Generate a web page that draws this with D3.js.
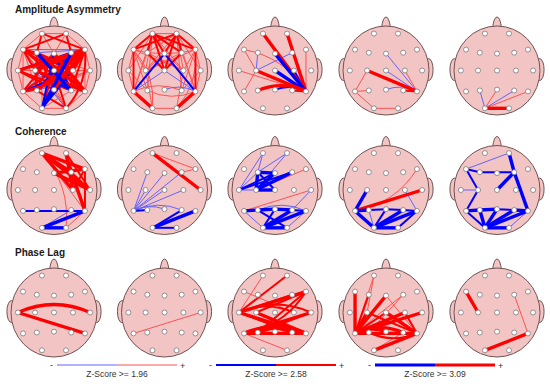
<!DOCTYPE html>
<html>
<head>
<meta charset="utf-8">
<script src="https://cdn.jsdelivr.net/npm/d3@7"></script>
<style>
  body { margin: 0; background: #fff; }
  svg { display: block; }
</style>
</head>
<body>
<div id="container"></div>
<script>
/* DATA */

const rowTitles = ["Amplitude Asymmetry", "Coherence", "Phase Lag"];
const thresholds = ["1.96", "2.58", "3.09"];

// 10-20 montage, positions as a fraction of the head radius
const electrodes = ["Fp1","Fp2","F7","F3","Fz","F4","F8","T3","C3","Cz","C4","T4","T5","P3","Pz","P4","T6","O1","O2"];
const electrodeX = [-0.28,0.28,-0.72,-0.40,0,0.40,0.72,-0.84,-0.44,0,0.44,0.84,-0.72,-0.40,0,0.40,0.72,-0.28,0.28];
const electrodeY = [-0.83,-0.83,-0.47,-0.40,-0.38,-0.40,-0.47,0,0,0,0,0,0.47,0.45,0.43,0.45,0.47,0.85,0.85];

// "from to z"  : z = +/-1 (>=1.96), +/-2 (>=2.58), +/-3 (>=3.09), sign = colour
const amplitudeAsymmetry = [
  ["Fp1 Fp2 1","Fp1 F7 1","Fp2 F8 1","Fp1 F3 2","Fp2 F4 2","Fp1 F8 2","Fp2 F7 2","Fp1 Fz 1","Fp2 Fz 1",
   "F7 T3 1","F8 T4 1","F7 T5 1","F8 T6 1","T3 T5 1","T4 T6 1","T5 O1 1","T6 O2 1","O1 O2 1",
   "F7 C3 2","F7 Cz 2","F7 C4 2","F7 P3 1","F7 Pz 1","F7 P4 2","F7 T6 2","F7 O1 1","F7 O2 1","F7 T4 1",
   "F8 C4 3","F8 Cz 3","F8 C3 3","F8 T3 3","F8 P4 2","F8 Pz 3","F8 P3 3","F8 T5 3","F8 O2 2","F8 F4 2",
   "F3 C3 1","F3 P3 2","F3 T6 3","F3 O2 1","F3 Pz 2","F4 C4 1","F4 P4 2","F4 Pz 2",
   "Fz C3 2","Fz C4 2","Fz T5 2","Fz T6 3","Fz P3 2","T3 C3 1","C4 T4 1",
   "T3 P4 2","T4 C3 1","T4 P3 1","C3 T6 3","T3 Pz 2","T4 Pz 1","C3 P3 2","Cz P4 2",
   "Cz O1 2","Cz O2 2","Cz T5 2","P3 O2 2","P4 O1 1","Pz O1 2","Pz O2 1","T5 P3 1","P4 T6 1",
   "F7 F8 -1","F3 F8 -1","T3 F4 -2","C3 F4 -2","C3 P4 -2","F3 P4 -3","Fz O1 -2","F4 P3 -2",
   "C3 O2 -1","C4 O1 -2","F4 O1 -3","Fz P4 -2","P3 T6 -1","T5 C4 -2","F3 C4 -1","O1 F8 -2","T5 F4 -1","T3 C4 -1"],
  ["Fp1 Fp2 1","Fp1 T3 1","Fp2 T4 1","F7 T3 1","F8 T4 1","T3 T5 1","T4 T6 1","O1 O2 1","F7 O1 1","F8 O2 1",
   "Fp1 P3 1","Fp2 P4 1","F3 T5 1","F4 T6 1","F7 P3 1","F8 P4 1","C3 O1 1","C4 O2 1","T5 P4 1","T6 P3 1",
   "T3 P3 1","T4 P4 1","F7 C4 1","F8 C3 1","Fp1 T5 1","Fp2 T6 1",
   "Fp1 F7 2","Fp2 F8 2","Fp1 F4 2","Fp2 F3 1","Fp1 Fz 2","Fp2 Fz 2","F3 Fz 1","Fz F4 1","Fp1 C3 1","Fp2 C4 1",
   "Fp1 Cz 2","Fp2 Cz 2","F7 F3 1","F4 F8 1","F7 C3 1","F8 C4 1","F3 C4 1","F4 C3 1","Fp1 C4 1","Fp2 C3 1",
   "F7 T5 2","F8 T6 2",
   "Fp1 F3 2","Fp2 F4 2","Fp1 F8 2","Fp2 F7 2","T5 O1 3","T6 O2 3","F3 Cz 2","F4 Cz 2","Fz C3 1","Fz C4 1",
   "T5 Fz -2","Fz T6 -2","T5 Cz -1","Cz T6 -1","Pz T6 -1"],
  ["Fp1 T6 3","Fp2 T6 3","F8 T6 1","Fz T6 -3","Cz T6 -3","C4 T6 -2","C3 T6 3","T3 T6 1","P3 T6 3",
   "Pz T6 -2","P4 T6 2","F3 C3 -1","C3 F4 -1","F7 C3 1","T5 C3 1","F7 T6 1"],
  ["C3 T6 3","Fz T6 -1","Cz T6 -1","C4 T6 1","Pz T6 -1","P4 T6 2","T5 C3 1","T5 P3 1","T5 O1 1","O1 O2 1"],
  ["O1 O2 3","O1 P3 -1","O1 Pz 1","O1 P4 -1","O1 T6 1"]
];

const coherence = [
  ["Fp1 F4 3","Fp1 F8 3","Fp1 C4 3","Fp1 T4 3","Fp1 T6 1","Fp1 O2 1","Fp2 C4 3","Fp2 T4 2","Fp2 T6 2",
   "Fz T4 3","Fz F8 3","F4 T6 3","F4 T4 2","F8 T6 2","F8 C4 2","T6 O2 1",
   "T5 T6 -2","T6 O1 -3","O1 O2 -3","P4 O1 -1"],
  ["Fp1 T4 3","Fp1 F8 1","F4 F8 1",
   "T5 F3 -1","T5 Fz -1","T5 F4 -1","T5 C3 -1","T5 Cz -1","T5 C4 -1","T5 P3 -2","T5 Pz -1","T5 P4 -1",
   "T6 O1 -3","P4 O1 -2","O1 O2 -2"],
  ["C3 F8 1","T5 T4 1",
   "Fp1 T3 -1","Fp1 F3 -1","Fp2 F3 -1","Fp2 C3 -1","T3 F3 -1","T3 Fz -2","T3 F4 -2","F3 C3 -3","F3 Fz -3",
   "C3 Fz -3","C3 F4 -3","C3 Cz -3","T3 C3 -1","F3 Cz -2",
   "T5 P3 -3","P3 Pz -3","Pz P4 -3","P4 T6 -2","T5 O1 -1","P3 O2 -2","Pz O1 -2","O1 T6 -3","O1 O2 -3",
   "O1 P4 -3","O2 T6 -1","P3 T6 -1","T4 P4 -1"],
  ["F8 T5 1","T5 T4 3",
   "T5 C3 -3","T5 P3 -3","T5 O1 -3","P3 Pz -2","Pz P4 -2","P4 T6 -2","O1 O2 -3","O1 T6 -3","O1 P4 -3",
   "O1 Pz -2","P3 O1 -1","O2 T6 -2","C4 T6 -1"],
  ["F7 Fp2 -1","F7 F3 -2","F3 F4 -2","Fp2 F4 -3","F4 Cz -3","F4 T6 -3","F7 C3 -2","T3 C3 -1","C3 T5 -2",
   "T5 P3 -3","P3 Pz -3","Pz P4 -2","P4 T6 -3","P3 O1 -3","T5 O1 -2","Pz O1 -3","P4 O1 -3","T6 O1 -3",
   "O1 O2 -3","O2 T6 -1"]
];

const phaseLag = [
  ["T3 T4 3","T3 T6 3"],
  ["T5 T4 1"],
  ["Fp1 T3 1","T3 Fp2 2","T3 F8 3","T3 F4 2","T3 C4 2","T3 T4 2","T3 P4 2","T3 T6 3","C3 F8 2","C3 T6 3",
   "F8 T5 2","T5 T4 3","T5 P4 3","T5 T6 3","P3 T6 3","P3 T4 2","P3 F8 2","F7 C4 1","T5 O2 1"],
  ["T5 Fp1 1","T5 F7 3","T5 F3 2","T5 Fz 3","T5 F4 1","T5 C3 3","T5 Cz 2","T5 C4 3","T5 T4 3","T5 P3 3",
   "T5 Pz 3","T5 P4 3","T5 T6 3","T6 C3 2","T6 Cz 3","T6 C4 2","T6 P3 2","T6 O1 3","Fp1 C3 1","F4 P3 1",
   "O1 P4 1","Fz T6 1"],
  ["F7 C3 3","F4 T6 1","T6 O1 3"]
];

/* LAYOUT */

const width = 550, height = 388;
const rx = 43, ry = 44.5;
const colX = [54, 164.5, 275, 386, 497];
const rowY = [70.5, 190, 312.5];
const titleY = [13, 135, 256];
const legendX = [117, 276, 435];

const red1 = "#ff5252", blue1 = "#6464ff", red = "#ff0000", blue = "#0000ff";
const lineWidth = [0, 1, 2, 3.4];
function edgeColor(z) {
  const l = Math.abs(z);
  if (z > 0) return l === 1 ? red1 : red;
  return l === 1 ? blue1 : blue;
}

const svg = d3.select("#container").append("svg")
  .attr("width", width).attr("height", height);

const allRows = [amplitudeAsymmetry, coherence, phaseLag];

// row titles
svg.selectAll("text.title")
  .data(rowTitles)
  .enter().append("text")
  .attr("class", "title")
  .attr("x", 15)
  .attr("y", (d, i) => titleY[i])
  .style("font-family", "Arial, 'Liberation Sans', sans-serif")
  .style("font-weight", "bold")
  .style("font-size", "10px")
  .style("fill", "#1a1a1a")
  .text(d => d);

function drawHead(cx, cy, edges) {
  const x = d3.scaleLinear().domain([-1, 1]).range([cx - rx, cx + rx]);
  const y = d3.scaleLinear().domain([-1, 1]).range([cy - ry, cy + ry]);
  const g = svg.append("g");

  const skin = "#f3c4c4", outline = "#6f5252";

  // ears
  [-1, 1].forEach(s => {
    g.append("ellipse")
      .attr("cx", x(s * 0.99)).attr("cy", y(-0.02))
      .attr("rx", 4.5).attr("ry", 11)
      .attr("fill", skin).attr("stroke", outline).attr("stroke-width", 1);
  });
  // nose
  const nb = y(-1) + 2;
  g.append("path")
    .attr("d", `M${cx - 4.5},${nb} Q${cx - 3},${y(-1) - 9} ${cx},${y(-1) - 9} Q${cx + 3},${y(-1) - 9} ${cx + 4.5},${nb}`)
    .attr("fill", skin).attr("stroke", outline).attr("stroke-width", 1);
  // head
  g.append("ellipse")
    .attr("cx", cx).attr("cy", cy).attr("rx", rx).attr("ry", ry)
    .attr("fill", skin).attr("stroke", outline).attr("stroke-width", 1);

  const parsed = edges.map(s => {
    const p = s.split(" ");
    return { a: electrodes.indexOf(p[0]), b: electrodes.indexOf(p[1]), z: +p[2] };
  }).sort((m, n) => Math.abs(m.z) - Math.abs(n.z));

  g.selectAll("path.edge")
    .data(parsed)
    .enter().append("path")
    .attr("class", "edge")
    .attr("fill", "none")
    .attr("stroke", d => edgeColor(d.z))
    .attr("stroke-width", d => lineWidth[Math.abs(d.z)])
    .attr("d", d => {
      const ax = electrodeX[d.a], ay = electrodeY[d.a];
      const bx = electrodeX[d.b], by = electrodeY[d.b];
      // does the straight line run through another electrode?
      const dx = bx - ax, dy = by - ay, len2 = dx * dx + dy * dy;
      let through = false;
      electrodes.forEach((e, k) => {
        if (k === d.a || k === d.b) return;
        const t = ((electrodeX[k] - ax) * dx + (electrodeY[k] - ay) * dy) / len2;
        if (t < 0.05 || t > 0.95) return;
        const px = ax + t * dx - electrodeX[k], py = ay + t * dy - electrodeY[k];
        if (Math.sqrt(px * px + py * py) < 0.015) through = true;
      });
      const x1 = x(ax), y1 = y(ay), x2 = x(bx), y2 = y(by);
      if (!through) return `M${x1},${y1}L${x2},${y2}`;
      const mx = (x1 + x2) / 2, my = (y1 + y2) / 2;
      const qx = mx + (y2 - y1) * 0.22, qy = my - (x2 - x1) * 0.22;
      return `M${x1},${y1}Q${qx},${qy} ${x2},${y2}`;
    });

  g.selectAll("circle.el")
    .data(electrodes)
    .enter().append("circle")
    .attr("class", "el")
    .attr("cx", (d, i) => x(electrodeX[i]))
    .attr("cy", (d, i) => y(electrodeY[i]))
    .attr("r", 2.5)
    .attr("fill", "#ffffff")
    .attr("stroke", "#7a7a7a")
    .attr("stroke-width", 0.8);
}

allRows.forEach((row, r) => {
  row.forEach((edges, c) => drawHead(colX[c], rowY[r], edges));
});

// legends
const legY = 365;
thresholds.forEach((t, i) => {
  const lx = legendX[i];
  const lev = i + 1;
  const lg = svg.append("g");
  const sx = d3.scaleLinear().domain([-1, 1]).range([lx - 60, lx + 60]);
  lg.append("line")
    .attr("x1", sx(-1)).attr("x2", sx(0)).attr("y1", legY).attr("y2", legY)
    .attr("stroke", edgeColor(-lev)).attr("stroke-width", [0, 1.2, 2, 3][lev]);
  lg.append("line")
    .attr("x1", sx(0)).attr("x2", sx(1)).attr("y1", legY).attr("y2", legY)
    .attr("stroke", edgeColor(lev)).attr("stroke-width", [0, 1.2, 2, 3][lev]);
  lg.append("text")
    .attr("x", sx(-1) - 4).attr("y", legY + 3)
    .attr("text-anchor", "end")
    .style("font-family", "Arial, 'Liberation Sans', sans-serif")
    .style("font-size", "9px").style("fill", "#333")
    .text("-");
  lg.append("text")
    .attr("x", sx(1) + 3).attr("y", legY + 3.5)
    .style("font-family", "Arial, 'Liberation Sans', sans-serif")
    .style("font-size", "9px").style("fill", "#333")
    .text("+");
  lg.append("text")
    .attr("x", lx).attr("y", legY + 12)
    .attr("text-anchor", "middle")
    .style("font-family", "Arial, 'Liberation Sans', sans-serif")
    .style("font-size", "8.5px").style("fill", "#333")
    .text("Z-Score >= " + t);
});
</script>
</body>
</html>
